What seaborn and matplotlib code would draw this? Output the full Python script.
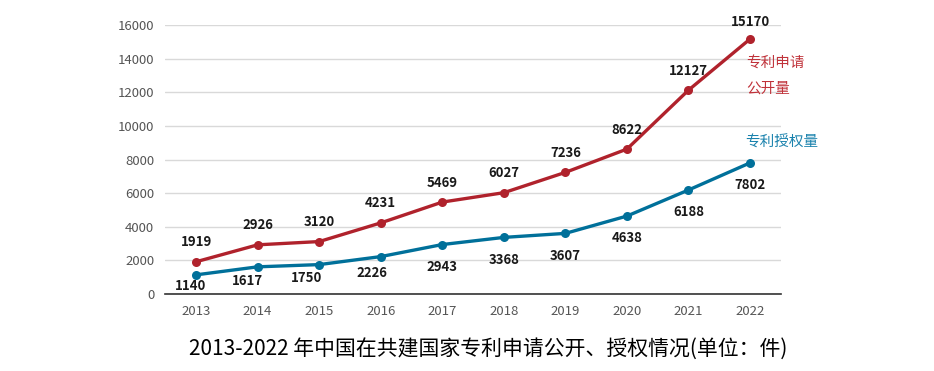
import matplotlib
matplotlib.use("Agg")
from matplotlib import pyplot as plt
import seaborn as sns
import pandas as pd

years = [2013, 2014, 2015, 2016, 2017, 2018, 2019, 2020, 2021, 2022]
applications = [1919, 2926, 3120, 4231, 5469, 6027, 7236, 8622, 12127, 15170]
grants = [1140, 1617, 1750, 2226, 2943, 3368, 3607, 4638, 6188, 7802]
series_names = ["专利申请公开量", "专利授权量"]
caption = "2013-2022 年中国在共建国家专利申请公开、授权情况(单位：件)"

red = "#b0222c"
blue = "#00709a"

# label offsets in points (style only)
app_dy = [14, 14, 14, 14, 14, 14, 14, 14, 14, 12]
grant_dx = [-4, -7, -9, -6, 0, 0, 0, 0, 0, 0]
grant_dy = [-8, -10, -9.5, -11.5, -16, -16, -16, -16, -16, -16]

df = pd.DataFrame({
    "year": years * 2,
    "value": applications + grants,
    "series": [series_names[0]] * len(years) + [series_names[1]] * len(years),
})

sns.set_style("white")
plt.rcParams['font.family'] = ['Noto Sans CJK SC', 'DejaVu Sans']

fig = plt.figure(figsize=(9.34, 3.71), dpi=100)
ax = fig.add_axes([0.177, 0.2075, 0.659, 0.725])

sns.lineplot(data=df, x="year", y="value", hue="series", palette=[red, blue],
             marker="o", markersize=6.5, markeredgewidth=0, linewidth=2.4,
             legend=False, ax=ax, zorder=3)

ax.set_xlim(years[0] - 0.5, years[-1] + 0.5)
ax.set_ylim(0, 16000)
ax.set_xticks(years)
ax.set_yticks(range(0, 16001, 2000))
ax.tick_params(axis="both", length=0, labelsize=9.5, colors="#555555", pad=8)
ax.yaxis.grid(True, color="#d9d9d9", linewidth=1)
ax.set_axisbelow(True)
for s in ["top", "left", "right"]:
    ax.spines[s].set_visible(False)
ax.spines["bottom"].set_color("#333333")
ax.spines["bottom"].set_linewidth(1.2)
ax.set_xlabel("")
ax.set_ylabel("")

for x, y, dy in zip(years, applications, app_dy):
    ax.annotate(str(y), (x, y), xytext=(0, dy), textcoords="offset points",
                ha="center", va="center", fontsize=9.5, fontweight="bold", color="#1a1a1a")
for x, y, dx, dy in zip(years, grants, grant_dx, grant_dy):
    ax.annotate(str(y), (x, y), xytext=(dx, dy), textcoords="offset points",
                ha="center", va="center", fontsize=9.5, fontweight="bold", color="#1a1a1a")

fig.text(0.799, 0.83, "专利申请", color="#c0323a", fontsize=10.5, ha="left", va="center")
fig.text(0.799, 0.76, "公开量", color="#c0323a", fontsize=10.5, ha="left", va="center")
fig.text(0.798, 0.615, "专利授权量", color="#1a82ad", fontsize=10.5, ha="left", va="center")

fig.text(0.523, 0.06, caption, fontsize=15, color="#000000", ha="center", va="center")

fig.savefig("out.png", dpi=100)
